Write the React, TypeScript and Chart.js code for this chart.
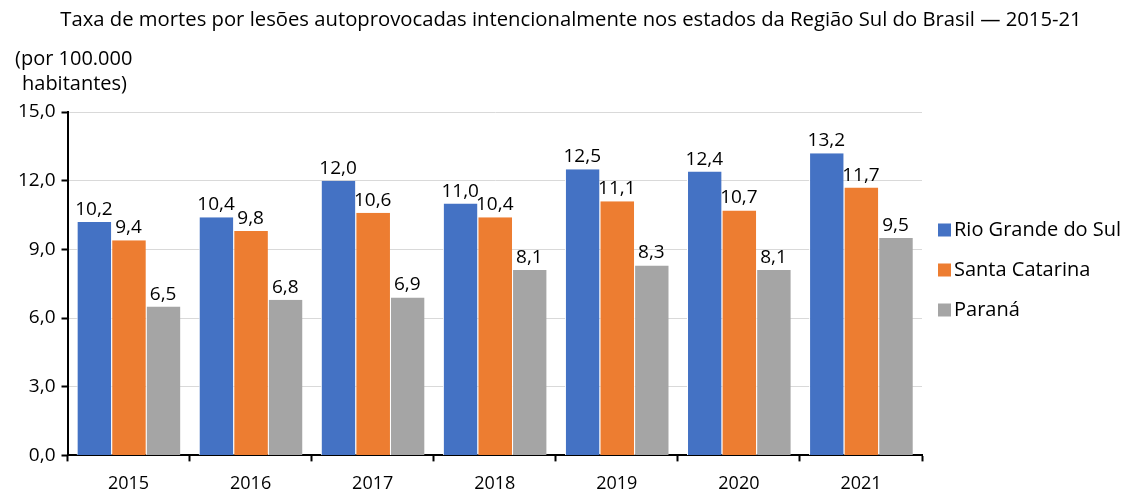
import React, { useEffect, useRef } from "react";
import { Chart, registerables } from "chart.js";

Chart.register(...registerables);

const TITLE = "Taxa de mortes por lesões autoprovocadas intencionalmente nos estados da Região Sul do Brasil — 2015-21";
const UNIT_LINES = ["(por 100.000", "habitantes)"];
const YEARS = ["2015", "2016", "2017", "2018", "2019", "2020", "2021"];
const RIO_GRANDE_DO_SUL = [10.2, 10.4, 12.0, 11.0, 12.5, 12.4, 13.2];
const SANTA_CATARINA = [9.4, 9.8, 10.6, 10.4, 11.1, 10.7, 11.7];
const PARANA = [6.5, 6.8, 6.9, 8.1, 8.3, 8.1, 9.5];
const SERIES_NAMES = ["Rio Grande do Sul", "Santa Catarina", "Paraná"];
const COLORS = ["#4472C4", "#ED7D31", "#A5A5A5"];

const FONT = "'Open Sans', 'Noto Sans', sans-serif";
const fmt = (v: number) => v.toFixed(1).replace(".", ",");

const textPlugin = {
  id: "texts",
  afterDraw(chart: any) {
    const ctx = chart.ctx;
    ctx.save();
    ctx.fillStyle = "#000";
    ctx.font = `20.25px ${FONT}`;
    ctx.textAlign = "center";
    ctx.textBaseline = "middle";
    ctx.fillText(TITLE, 563, 12);
    ctx.font = `20px ${FONT}`;
    ctx.textAlign = "left";
    ctx.fillText(UNIT_LINES[0], 7, 51);
    ctx.fillText(UNIT_LINES[1], 14, 76);
    // legend
    const area = chart.chartArea;
    const boxX = area.right + 16;
    chart.data.datasets.forEach((ds: any, i: number) => {
      const cy = 222 + i * 40;
      ctx.fillStyle = ds.backgroundColor;
      ctx.fillRect(boxX, cy - 6.5, 13, 13);
      ctx.fillStyle = "#000";
      ctx.font = `20px ${FONT}`;
      ctx.textAlign = "left";
      ctx.textBaseline = "middle";
      ctx.fillText(ds.label, boxX + 16, cy);
    });
    // data labels
    ctx.font = `19px ${FONT}`;
    ctx.textAlign = "center";
    ctx.textBaseline = "alphabetic";
    ctx.fillStyle = "#000";
    chart.data.datasets.forEach((ds: any, i: number) => {
      const meta = chart.getDatasetMeta(i);
      meta.data.forEach((bar: any, j: number) => {
        ctx.fillText(fmt(ds.data[j]), bar.x, bar.y - 7);
      });
    });
    ctx.restore();
  },
};

export default function App() {
  const ref = useRef<HTMLCanvasElement>(null);
  useEffect(() => {
    document.documentElement.style.overflow = "hidden";
    document.body.style.overflow = "hidden";
    const chart = new Chart(ref.current!, {
      type: "bar",
      data: {
        labels: YEARS,
        datasets: [RIO_GRANDE_DO_SUL, SANTA_CATARINA, PARANA].map((d, i) => ({
          label: SERIES_NAMES[i],
          data: d,
          backgroundColor: COLORS[i],
          borderColor: "#ffffff",
          borderWidth: { left: 1, right: 0, top: 0, bottom: 0 },
          borderSkipped: false,
          categoryPercentage: 0.85,
          barPercentage: 1.0,
        })),
      },
      options: {
        animation: false,
        responsive: false,
        maintainAspectRatio: false,
        layout: { padding: { top: 104, left: 4, right: 207, bottom: 1 } },
        plugins: {
          title: { display: false },
          tooltip: { enabled: false },
          legend: { display: false },
        },
        scales: {
          x: {
            grid: {
              display: true,
              drawOnChartArea: false,
              drawTicks: true,
              tickLength: 6,
              tickColor: "#000",
              tickWidth: 2,
              offset: true,
            },
            border: { display: true, color: "#000", width: 2 },
            ticks: { color: "#000", font: { family: FONT, size: 18 }, padding: 12 },
          },
          y: {
            min: 0,
            max: 15,
            ticks: {
              stepSize: 3,
              color: "#000",
              font: { family: FONT, size: 19 },
              padding: 6,
              callback: (v: any) => fmt(Number(v)),
            },
            grid: {
              color: "#d9d9d9",
              lineWidth: 1,
              drawTicks: true,
              tickLength: 6,
              tickColor: "#000",
              tickWidth: 2,
            },
            border: { display: true, color: "#000", width: 2 },
          },
        },
      },
      plugins: [textPlugin],
    });
    return () => chart.destroy();
  }, []);
  return (
    <div style={{ width: 1121, height: 500, position: "relative" }}>
      <canvas ref={ref} width={1121} height={500} style={{ display: "block", width: 1121, height: 500 }} />
    </div>
  );
}
